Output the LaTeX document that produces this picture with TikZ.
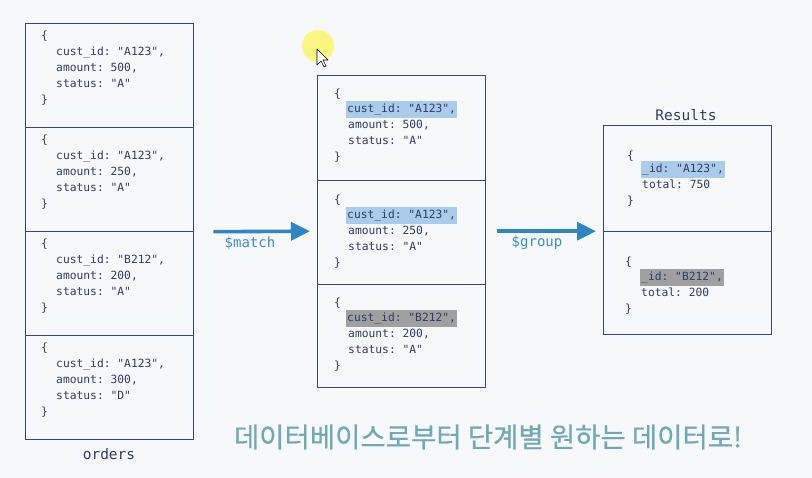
\documentclass[tikz,border=0pt]{standalone}
\usepackage{fontspec}
\setmonofont{DejaVu Sans Mono}
\newfontfamily\krfont[FakeBold=0.6]{Noto Sans CJK KR}
\usetikzlibrary{arrows.meta}
\definecolor{bgc}{RGB}{247,248,250}
\definecolor{boxline}{RGB}{58,66,140}
\definecolor{codecol}{RGB}{50,58,105}
\definecolor{hlblue}{RGB}{168,204,234}
\definecolor{hlgray}{RGB}{160,160,160}
\definecolor{arrowblue}{RGB}{46,134,200}
\definecolor{labblue}{RGB}{60,140,200}
\definecolor{tealc}{RGB}{112,168,182}
\begin{document}
\begin{tikzpicture}[x=1pt,y=-1pt,
  docbox/.style={draw=boxline, line width=1.2pt, inner sep=0pt, anchor=north west, minimum width=168pt},
  colbox/.style={inner sep=0pt, anchor=north west, minimum width=168pt},
  code/.style={font=\ttfamily\fontsize{11.3}{13}\selectfont, text=codecol, anchor=west, inner sep=0pt, text height=9pt, text depth=3pt},
  hlb/.style={code, fill=hlblue, inner xsep=1pt, inner ysep=2.5pt},
  hlg/.style={code, fill=hlgray, inner xsep=1pt, inner ysep=2.5pt},
  title/.style={font=\ttfamily\fontsize{14.5}{16}\selectfont, text=codecol, inner sep=0pt},
  flow/.style={draw=arrowblue, line width=3.6pt, -{Triangle[length=19pt,width=18pt]}},
  flowlab/.style={font=\ttfamily\fontsize{14}{16}\selectfont, text=labblue, inner sep=0pt}
]
\fill[bgc] (0,0) rectangle (812,478);
\useasboundingbox (0,0) rectangle (812,478);

% ---- orders collection ----
\node[colbox, minimum height=417pt] (ord) at (25,23) {};
\foreach \t/\id/\amt/\st [count=\i] in {23/A123/500/A,127/A123/250/A,231/B212/200/A,335/A123/300/D}{
  \node[docbox, minimum height=104pt] (o\i) at (25,\t) {};
  \node[code] (o\i b) at (41,\t+14) {\{};
  \node[code] (o\i c) at (56,\t+30) {cust\_id: "\id",};
  \node[code] (o\i a) at (56,\t+46) {amount: \amt,};
  \node[code] (o\i s) at (56,\t+62) {status: "\st"};
  \node[code] (o\i e) at (41,\t+78) {\}};
}
\node[title] (ordlab) at (109,454) {orders};

% ---- after $match ----
\node[colbox, minimum height=312pt] (mid) at (317,75) {};
\node[docbox, minimum height=105pt] (m1) at (317,75) {};
\node[docbox, minimum height=104pt] (m2) at (317,180) {};
\node[docbox, minimum height=103pt] (m3) at (317,284) {};
\foreach \t/\id/\amt/\hl [count=\i] in {75/A123/500/hlb,181/A123/250/hlb,284/B212/200/hlg}{
  \node[code] (m\i b) at (334,\t+20) {\{};
  \node[\hl] (m\i c) at (346,\t+35) {cust\_id: "\id",};
  \node[code] (m\i a) at (348,\t+51) {amount: \amt,};
  \node[code] (m\i s) at (348,\t+67) {status: "A"};
  \node[code] (m\i e) at (334,\t+83) {\}};
}

% ---- results ----
\node[colbox, minimum height=209pt] (res) at (603,125) {};
\node[docbox, minimum height=106pt] (r1) at (603,125) {};
\node[docbox, minimum height=103pt] (r2) at (603,231) {};
\node[title] (reslab) at (686,115) {Results};
\node[code] (r1b) at (627,157) {\{};
\node[hlb] (r1c) at (641,170) {\_id: "A123",};
\node[code] (r1a) at (642,186) {total: 750};
\node[code] (r1e) at (627,202) {\}};
\node[code] (r2b) at (625,263) {\{};
\node[hlg] (r2c) at (640,278) {\_id: "B212",};
\node[code] (r2a) at (641,294) {total: 200};
\node[code] (r2e) at (625,310) {\}};

% ---- stage arrows ----
\draw[flow] ([xshift=20pt]ord.east) -- ([xshift=-7pt]mid.west);
\node[flowlab] (matchlab) at (250,243) {\$match};
\draw[flow] ([xshift=12pt]mid.east) -- ([xshift=-7pt]mid.east -| res.west);
\node[flowlab] (grouplab) at (537,243) {\$group};

% ---- caption ----
\node[font=\krfont\fontsize{27.5}{30}\selectfont, text=tealc, inner sep=0pt] (cap) at (488,437) {데이터베이스로부터 단계별 원하는 데이터로!};

% ---- cursor highlight ----
\fill[yellow!70!white, opacity=0.7] (318,46) circle (16pt);
\filldraw[fill=white, draw=black, line width=0.6pt, line join=round]
  (317,49) -- (317,65) -- (321,61) -- (324,67) -- (326,66) -- (323,60) -- (328,60) -- cycle;
\end{tikzpicture}
\end{document}
